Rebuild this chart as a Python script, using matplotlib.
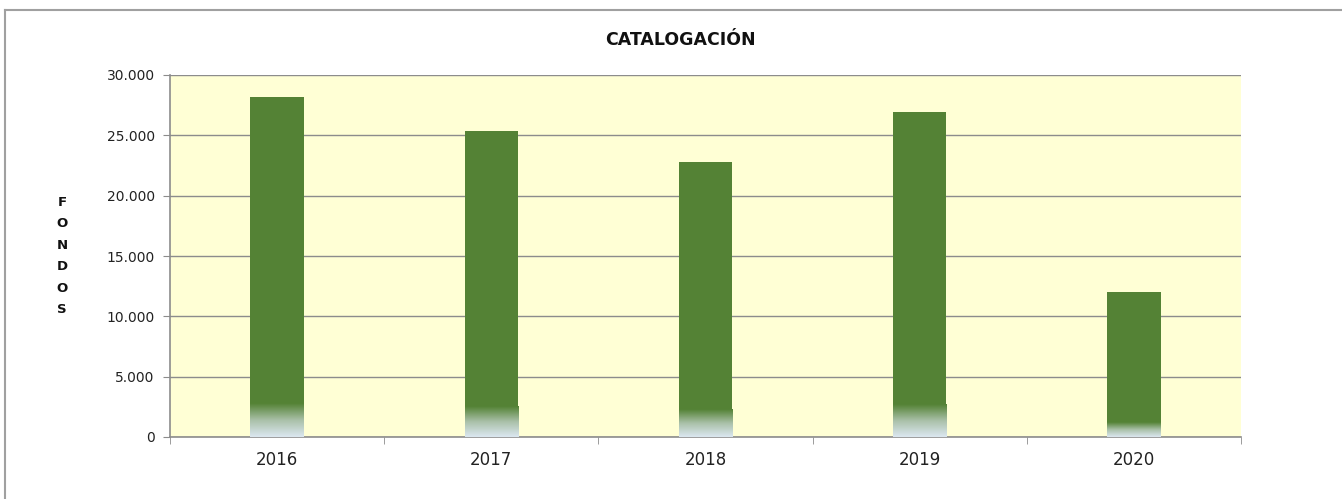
import numpy as np
import matplotlib.pyplot as plt
from matplotlib.colors import LinearSegmentedColormap
from matplotlib.lines import Line2D
from matplotlib.ticker import FuncFormatter

years = ["2016", "2017", "2018", "2019", "2020"]
fondos = [28150, 25350, 22750, 26950, 12000]

GREEN = "#548235"
BG = "#ffffd5"
GRID = "#8c8c8c"

fig = plt.figure(figsize=(13.42, 4.99), dpi=100)
ax = fig.add_axes([170 / 1342, 1 - 437 / 499, (1241 - 170) / 1342, (437 - 75) / 499])
ax.set_facecolor(BG)

x = np.arange(len(years))
width = 0.25
bars = ax.bar(x, fondos, width=width, color=GREEN, zorder=3)

# fade at the bottom of each bar
fade = LinearSegmentedColormap.from_list("fade", ["#dbe7f0", "#a9c0a8", GREEN])
grad = np.linspace(0, 1, 64).reshape(-1, 1)
for bar, v in zip(bars, fondos):
    im = ax.imshow(grad, cmap=fade, origin="lower", aspect="auto", zorder=4,
                   interpolation="bilinear",
                   extent=(bar.get_x(), bar.get_x() + bar.get_width(), 0, v * 0.1))
    im.set_clip_path(bar)

ax.set_xlim(-0.5, len(years) - 0.5)
ax.set_ylim(0, 30000)
ax.set_yticks(np.arange(0, 30001, 5000))
ax.yaxis.set_major_formatter(FuncFormatter(lambda v, p: f"{int(v):,}".replace(",", ".")))
ax.set_xticks(x)
ax.set_xticklabels(years, fontsize=12, color="#222222")
ax.set_xticks(np.arange(-0.5, len(years)), minor=True)
ax.tick_params(axis="x", which="major", length=0, pad=10)
ax.tick_params(axis="x", which="minor", length=5, color=GRID, direction="out")
ax.tick_params(axis="y", length=5, color=GRID, labelsize=10, pad=6, labelcolor="#222222")

ax.grid(axis="y", color=GRID, linewidth=1, zorder=1)
ax.set_axisbelow(True)
for s in ["top", "right"]:
    ax.spines[s].set_visible(False)
for s in ["left", "bottom"]:
    ax.spines[s].set_color(GRID)
    ax.spines[s].set_linewidth(1.2)

fig.text(0.507, 1 - 40 / 499, "CATALOGACIÓN", ha="center", va="center",
         fontsize=12.5, fontweight="bold", color="#111111")
fig.text(62 / 1342, 1 - 256 / 499, "F\nO\nN\nD\nO\nS", ha="center", va="center",
         fontsize=9.5, fontweight="bold", linespacing=1.85, color="#111111")

# chart frame (left and top edges visible)
fig.add_artist(Line2D([5 / 1342, 5 / 1342], [0, 1 - 10 / 499], color="#a0a0a0", lw=1.5))
fig.add_artist(Line2D([5 / 1342, 1], [1 - 10 / 499, 1 - 10 / 499], color="#a0a0a0", lw=1.5))

fig.savefig("out.png", dpi=100)
